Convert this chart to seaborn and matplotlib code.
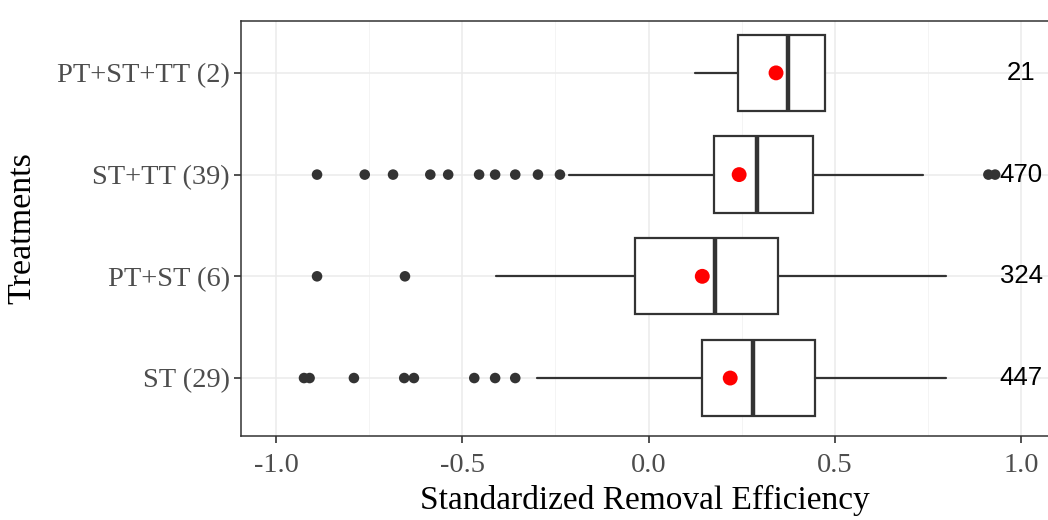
import matplotlib
matplotlib.use("Agg")
import matplotlib.pyplot as plt
import seaborn as sns
import pandas as pd
import numpy as np

# values
treatments = ["PT+ST+TT (2)", "ST+TT (39)", "PT+ST (6)", "ST (29)"]
n_obs = [21, 470, 324, 447]
q1 = [0.240, 0.176, -0.036, 0.144]
medians = [0.374, 0.290, 0.179, 0.281]
q3 = [0.474, 0.442, 0.348, 0.447]
whis_lo = [0.125, -0.213, -0.409, -0.299]
whis_hi = [0.474, 0.737, 0.799, 0.799]
means = [0.342, 0.243, 0.144, 0.219]
outliers = [
    [],
    [-0.890, -0.762, -0.686, -0.586, -0.538, -0.455, -0.412, -0.358, -0.297,
     -0.238, 0.912, 0.930],
    [-0.890, -0.654],
    [-0.925, -0.910, -0.791, -0.656, -0.630, -0.468, -0.412, -0.358],
]
x_ticks = [-1.0, -0.5, 0.0, 0.5, 1.0]
x_minor = [-0.75, -0.25, 0.25, 0.75]

sns.set_style("white")
plt.rcParams["font.family"] = ["Liberation Serif", "DejaVu Serif"]
plt.rcParams["axes.unicode_minus"] = False

dark = "#333333"
pos = np.arange(len(treatments))

fig, ax = plt.subplots(figsize=(10.48, 5.2), dpi=100)
fig.subplots_adjust(left=0.230, right=1.0, bottom=0.1615, top=0.9596)

# grid (theme_bw look)
for v in x_ticks:
    ax.axvline(v, color="#EBEBEB", lw=1.1, zorder=0)
for v in x_minor:
    ax.axvline(v, color="#F2F2F2", lw=0.6, zorder=0)
for p in pos:
    ax.axhline(p, color="#EBEBEB", lw=1.1, zorder=0)

stats = []
for i, t in enumerate(treatments):
    stats.append(dict(label=t, q1=q1[i], med=medians[i], q3=q3[i],
                      whislo=whis_lo[i], whishi=whis_hi[i], fliers=[]))

ax.bxp(stats, positions=pos, widths=0.75, orientation="horizontal",
       showcaps=False, showfliers=False, patch_artist=True,
       boxprops=dict(facecolor="white", edgecolor=dark, linewidth=1.6),
       medianprops=dict(color=dark, linewidth=3.2),
       whiskerprops=dict(color=dark, linewidth=1.6))

# outliers
out_df = pd.DataFrame([(v, pos[i]) for i, vals in enumerate(outliers) for v in vals],
                      columns=["value", "pos"])
sns.scatterplot(data=out_df, x="value", y="pos", color=dark, s=58,
                edgecolor="none", ax=ax, zorder=3, legend=False)

# means
mean_df = pd.DataFrame({"value": means, "pos": pos})
sns.scatterplot(data=mean_df, x="value", y="pos", color="red", s=115,
                edgecolor="none", ax=ax, zorder=4, legend=False)

# counts
for i, n in enumerate(n_obs):
    ax.text(1.0, pos[i], str(n), ha="center", va="center", fontsize=18.5,
            family="Liberation Sans", color="black", zorder=5)

ax.set_xlim(-1.094, 1.072)
ax.set_ylim(3.57, -0.51)
ax.set_xticks(x_ticks)
ax.set_xticklabels([f"{v:.1f}" for v in x_ticks])
ax.set_yticks(pos)
ax.set_yticklabels(treatments)
ax.tick_params(axis="both", length=5, width=1.2, color=dark,
               labelcolor="#4D4D4D", labelsize=20.5, pad=3, direction="out")
ax.tick_params(axis="x", bottom=True, pad=7)
ax.tick_params(axis="y", left=True)

for side in ["top", "left", "bottom"]:
    ax.spines[side].set_color(dark)
    ax.spines[side].set_linewidth(1.1)
ax.spines["right"].set_visible(False)

ax.set_xlabel("Standardized Removal Efficiency", fontsize=24, color="black", labelpad=5)
ax.set_ylabel("Treatments", fontsize=24.5, color="black", labelpad=14)

fig.savefig("out.png", dpi=100)
